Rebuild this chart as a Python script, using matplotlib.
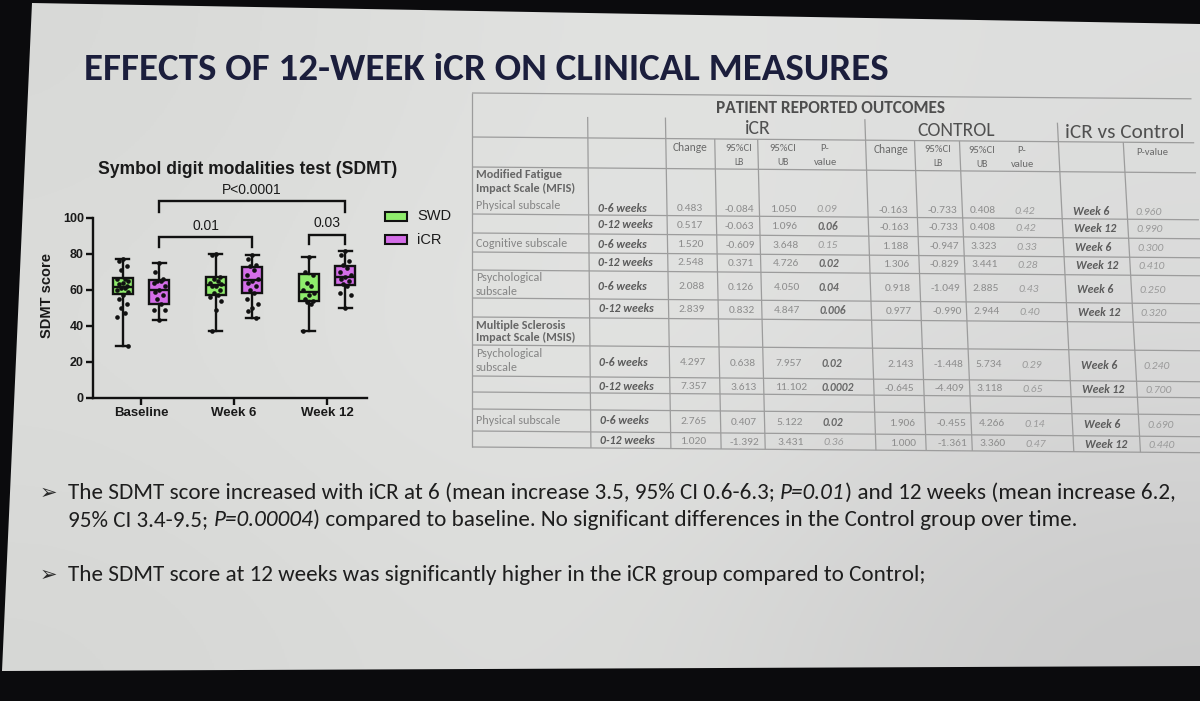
import matplotlib
matplotlib.use('Agg')
import matplotlib.pyplot as plt
import numpy as np
from matplotlib import font_manager
from matplotlib.patches import Polygon, Rectangle
from matplotlib.colors import to_rgb

# ---------------- data ----------------
groups = ['Baseline', 'Week 6', 'Week 12']
series_names = ['SWD', 'iCR']
series_colors = ['#8fec6c', '#d46ee8']

swd_min = [29, 37, 37]
swd_q1 = [57.5, 57, 54]
swd_med = [61.5, 62.5, 58.5]
swd_q3 = [66.5, 67, 68.5]
swd_max = [77, 80, 78]

icr_min = [43, 44.5, 50]
icr_q1 = [52, 58, 62.5]
icr_med = [60, 65.5, 67]
icr_q3 = [65.5, 72.5, 73]
icr_max = [75, 79.5, 81.5]

swd_points = [
    [77, 76, 73, 71, 66, 66, 65, 64, 63, 62, 61, 61, 60, 59, 57, 55, 52, 50, 47, 45, 29],
    [80, 79, 67, 66, 65, 64, 63, 62, 62, 60, 58, 57, 56, 54, 49, 37],
    [78, 70, 68, 64, 62, 60, 58, 57, 55, 54, 53, 52, 37],
]
icr_points = [
    [75, 70, 66, 65, 65, 64, 62, 60, 59, 57, 55, 52, 49, 49, 43],
    [79.5, 77, 74, 73, 71, 68, 66, 65, 64, 62, 60, 58, 55, 52, 50, 48, 44.5],
    [81.5, 79, 76, 74, 72, 70, 68, 67, 66, 65, 63, 62, 58, 57, 50],
]

y_ticks = [0, 20, 40, 60, 80, 100]
sig_labels = ['P<0.0001', '0.01', '0.03']
sig_from = [(0, 1), (0, 1), (2, 0)]   # (group, series)
sig_to = [(2, 1), (1, 1), (2, 1)]
sig_level = [109, 89, 90.5]
sig_drop = [6, 5.5, 5]

# table data
tbl_title = 'PATIENT REPORTED OUTCOMES'
tbl_sections = ['iCR', 'CONTROL', 'iCR vs Control']
periods = ['0-6 weeks', '0-12 weeks'] * 5
icr_change = ['0.483', '0.517', '1.520', '2.548', '2.088', '2.839', '4.297', '7.357', '2.765', '1.020']
icr_lb = ['-0.084', '-0.063', '-0.609', '0.371', '0.126', '0.832', '0.638', '3.613', '0.407', '-1.392']
icr_ub = ['1.050', '1.096', '3.648', '4.726', '4.050', '4.847', '7.957', '11.102', '5.122', '3.431']
icr_p = ['0.09', '0.06', '0.15', '0.02', '0.04', '0.006', '0.02', '0.0002', '0.02', '0.36']
icr_p_bold = [False, True, False, True, True, True, True, True, True, False]
ctl_change = ['-0.163', '-0.163', '1.188', '1.306', '0.918', '0.977', '2.143', '-0.645', '1.906', '1.000']
ctl_lb = ['-0.733', '-0.733', '-0.947', '-0.829', '-1.049', '-0.990', '-1.448', '-4.409', '-0.455', '-1.361']
ctl_ub = ['0.408', '0.408', '3.323', '3.441', '2.885', '2.944', '5.734', '3.118', '4.266', '3.360']
ctl_p = ['0.42', '0.42', '0.33', '0.28', '0.43', '0.40', '0.29', '0.65', '0.14', '0.47']
cmp_week = ['Week 6', 'Week 12'] * 5
cmp_p = ['0.960', '0.990', '0.300', '0.410', '0.250', '0.320', '0.240', '0.700', '0.690', '0.440']
row_labels = ['Modified Fatigue', 'Impact Scale (MFIS)', 'Physical subscale', 'Cognitive subscale',
              'Psychological', 'subscale', 'Multiple Sclerosis', 'Impact Scale (MSIS)',
              'Psychological', 'subscale', 'Physical subscale']
row_label_bold = [True, True, False, False, False, False, True, True, False, False, False]

title_text = 'EFFECTS OF 12-WEEK iCR ON CLINICAL MEASURES'
bullet1a = [('The SDMT score increased with iCR at 6 (mean increase 3.5, 95% CI 0.6-6.3; ', 'n'),
            ('P=0.01', 'i'), (') and 12 weeks (mean increase 6.2,', 'n')]
bullet1b = [('95% CI 3.4-9.5; ', 'n'), ('P=0.00004', 'i'),
            (') compared to baseline. No significant differences in the Control group over time.', 'n')]
bullet2 = [('The SDMT score at 12 weeks was significantly higher in the iCR group compared to Control;', 'n')]

# ---------------- fonts ----------------
names = {f.name for f in font_manager.fontManager.ttflist}
CAL = 'Carlito' if 'Carlito' in names else 'Open Sans'
ARIAL = 'Liberation Sans'

W, H = 1200, 701
fig = plt.figure(figsize=(W / 100, H / 100), dpi=100)
fig.patch.set_facecolor('#0b0b0d')
R = fig.canvas.get_renderer()

bg = fig.add_axes([0, 0, 1, 1], zorder=0)
bg.set_xlim(0, W)
bg.set_ylim(H, 0)
bg.axis('off')

# slide with gradient
slide = Polygon([(32, 3), (1200, 24), (1200, 666), (2, 671)], closed=True,
                facecolor='none', edgecolor='none', transform=bg.transData)
bg.add_patch(slide)
grid = np.array([[to_rgb(c) for c in row] for row in [
    ['#d8d9d7', '#e3e4e2', '#dddedd'],
    ['#dcdddb', '#e6e7e5', '#dadada'],
    ['#d6d7d5', '#dfe0de', '#cacaca']]])
im = bg.imshow(grid, extent=[0, W, H, 0], interpolation='bicubic', aspect='auto', zorder=0)
im.set_clip_path(slide)


def width_of(t):
    return t.get_window_extent(renderer=R).width


def size_for(s, w, **kw):
    t = bg.text(0, 0, s, fontsize=10, **kw)
    fs = 10 * w / width_of(t)
    t.remove()
    return fs


def fit(axx, x, y, s, w, **kw):
    t = axx.text(x, y, s, fontsize=10, **kw)
    t.set_fontsize(10 * w / width_of(t))
    return t


def run_width(axx, s, fs, **kw):
    t1 = axx.text(0, 0, '|' + s + '|', fontsize=fs, **kw)
    t2 = axx.text(0, 0, '||', fontsize=fs, **kw)
    w = width_of(t1) - width_of(t2)
    t1.remove()
    t2.remove()
    return w


def runs_width(axx, parts, fs, **kw):
    return sum(run_width(axx, s, fs, fontstyle=('italic' if st == 'i' else 'normal'), **kw)
               for s, st in parts)


def runs(axx, x, y, parts, fs, **kw):
    cx = x
    for s, st in parts:
        sty = 'italic' if st == 'i' else 'normal'
        axx.text(cx, y, s, fontsize=fs, fontstyle=sty, ha='left', va='center', **kw)
        cx += run_width(axx, s, fs, fontstyle=sty, **kw)


# title
fit(bg, 486, 70, title_text, 803, ha='center', va='center', weight='bold',
    family=CAL, color='#1b1e3c')

# bullets (one common size, taken from the second line)
bkw = dict(family=CAL, color='#1e1e1e')
fb = 10 * 1010 / runs_width(bg, bullet1b, 10, **bkw)
for yy in [493, 575]:
    bg.text(48, yy, '\u27a2', fontsize=15, family='DejaVu Sans', ha='center', va='center', color='#2a2a2a')
runs(bg, 68, 493, bullet1a, fb, **bkw)
runs(bg, 68, 520, bullet1b, fb, **bkw)
runs(bg, 68, 575, bullet2, fb, **bkw)

# ---------------- table ----------------
A_SH = 8.5e-5
B_SH = 0.008


def P(x, y):
    return x + A_SH * (x - 472) * (y - 150), y + B_SH * (x - 472)


LINE_C = '#9c9c9c'
h_lines = [93, 137, 167, 214, 233, 252, 270, 298, 317, 345, 376, 392, 409, 431, 447]
for yy in h_lines:
    (x0, y0), (x1, y1) = P(472, yy), P(1195, yy)
    bg.plot([x0, x1], [y0, y1], color=LINE_C, lw=0.9, solid_capstyle='butt')
v_lines = [(472, 93), (588, 116), (666, 116), (715, 137), (758, 137), (866, 116),
           (915, 137), (960, 137), (1059, 118), (1124, 137)]
for xx, yt in v_lines:
    (x0, y0), (x1, y1) = P(xx, yt), P(xx, 447)
    bg.plot([x0, x1], [y0, y1], color=LINE_C, lw=0.9, solid_capstyle='butt')


def T(x, y, s, **kw):
    px, py = P(x, y)
    kw.setdefault('va', 'center')
    kw.setdefault('family', CAL)
    return bg.text(px, py, s, **kw)


def TF(x, y, s, w, **kw):
    px, py = P(x, y)
    kw.setdefault('va', 'center')
    kw.setdefault('family', CAL)
    return fit(bg, px, py, s, w, **kw)


TF(832, 105, tbl_title, 230, ha='center', weight='bold', color='#4e4e4e')
TF(758, 126.5, tbl_sections[0], 26, ha='center', color='#505050')
TF(957, 127, tbl_sections[1], 78, ha='center', color='#505050')
TF(1126, 127.5, tbl_sections[2], 120, ha='center', color='#505050')

HS = size_for('Change', 35, family=CAL)
NS = size_for('0.483', 26, family=CAL)
PS = size_for('0-6 weeks', 49, family=CAL, weight='bold', style='italic')
LS = size_for('Physical subscale', 84, family=CAL)
HC = '#6a6a6a'
for cx, two in [(690, False), (739, True), (783, True), (825, 'p'),
                (891, False), (938, True), (982, True), (1022, 'p')]:
    if two is False:
        T(cx, 146, 'Change', fontsize=HS, ha='center', color=HC)
    elif two is True:
        T(cx, 146, '95%CI', fontsize=HS * 0.92, ha='center', color=HC)
        T(cx, 160, 'LB' if cx in (739, 938) else 'UB', fontsize=HS * 0.85, ha='center', color=HC)
    else:
        T(cx, 146, 'P-', fontsize=HS * 0.92, ha='center', color=HC)
        T(cx, 160, 'value', fontsize=HS * 0.92, ha='center', color=HC)
T(1152, 147, 'P-value', fontsize=HS * 0.92, ha='center', color=HC)

label_y = [174, 188, 205, 243, 277, 291, 325, 337, 353, 367, 420]
for s, yy, b in zip(row_labels, label_y, row_label_bold):
    T(476, yy, s, fontsize=LS, ha='left', weight=('bold' if b else 'normal'),
      color=('#666666' if b else '#858585'))

row_y = [207, 224, 243, 261, 285, 308, 361, 385, 420, 440]
NC = '#8e8e8e'
for i, yy in enumerate(row_y):
    T(597, yy, periods[i], fontsize=PS, ha='left', weight='bold', style='italic', color='#5c5c5c')
    T(689, yy, icr_change[i], fontsize=NS, ha='center', color=NC)
    T(738, yy, icr_lb[i], fontsize=NS, ha='center', color=NC)
    T(770, yy, icr_ub[i], fontsize=NS, ha='left', color=NC)
    T(815, yy, icr_p[i], fontsize=NS, ha='left', style='italic',
      weight=('bold' if icr_p_bold[i] else 'normal'), color=('#6a6a6a' if icr_p_bold[i] else '#9a9a9a'))
    T(906, yy, ctl_change[i], fontsize=NS, ha='right', color=NC)
    T(955, yy, ctl_lb[i], fontsize=NS, ha='right', color=NC)
    T(967, yy, ctl_ub[i], fontsize=NS, ha='left', color=NC)
    T(1012, yy, ctl_p[i], fontsize=NS, ha='left', style='italic', color='#9a9a9a')
    T(1070, yy, cmp_week[i], fontsize=PS, ha='left', weight='bold', style='italic', color='#5c5c5c')
    T(1132, yy, cmp_p[i], fontsize=NS, ha='left', style='italic', color='#9a9a9a')

# ---------------- box plot ----------------
ax = fig.add_axes([93 / W, (H - 397.7) / H, 274 / W, 180 / H], zorder=2)
ax.set_facecolor('none')
ax.set_xlim(0.484, 3.43)
ax.set_ylim(0, 100)
OFF = 0.195


def pos(g, s):
    return g + 1 + (-OFF if s == 0 else OFF)


stats_all = [(swd_min, swd_q1, swd_med, swd_q3, swd_max, swd_points),
             (icr_min, icr_q1, icr_med, icr_q3, icr_max, icr_points)]
jit = [0, -0.045, 0.045, -0.022, 0.022, -0.06, 0.06]
for s, (mn, q1, md, q3, mx, pts) in enumerate(stats_all):
    st = [dict(whislo=mn[g], q1=q1[g], med=md[g], q3=q3[g], whishi=mx[g], fliers=[])
          for g in range(3)]
    ps = [pos(g, s) for g in range(3)]
    ax.bxp(st, positions=ps, widths=0.215, capwidths=0.14, patch_artist=True, showfliers=False,
           boxprops=dict(facecolor=series_colors[s], edgecolor='#111111', lw=1.7),
           whiskerprops=dict(color='#111111', lw=1.7), capprops=dict(color='#111111', lw=1.7),
           medianprops=dict(color='#111111', lw=1.7), manage_ticks=False, zorder=2)
    for g in range(3):
        xs = [ps[g] + jit[i % len(jit)] for i in range(len(pts[g]))]
        ax.scatter(xs, pts[g], s=11, color='#111111', zorder=3, clip_on=False, linewidths=0)

for lab, f, t, lv, dr in zip(sig_labels, sig_from, sig_to, sig_level, sig_drop):
    x0, x1 = pos(*f), pos(*t)
    ax.plot([x0, x0, x1, x1], [lv - dr, lv, lv, lv - dr], color='#111111', lw=1.7,
            clip_on=False, solid_joinstyle='miter')
    ax.text((x0 + x1) / 2, lv + 2.6, lab, ha='center', va='bottom', fontsize=10,
            family=ARIAL, color='#1a1a1a')

for sp in ['top', 'right']:
    ax.spines[sp].set_visible(False)
for sp in ['left', 'bottom']:
    ax.spines[sp].set_linewidth(1.7)
    ax.spines[sp].set_color('#111111')
ax.set_xticks([1, 2, 3])
ax.set_xticklabels(groups, fontsize=9.5, weight='bold', family=ARIAL, color='#1a1a1a')
ax.set_yticks(y_ticks)
ax.set_yticklabels([str(v) for v in y_ticks], fontsize=9, weight='bold', family=ARIAL, color='#1a1a1a')
ax.tick_params(axis='both', direction='out', length=5, width=1.7, color='#111111', pad=1.5)

bg.text(47, 295, 'SDMT score', rotation=90, ha='center', va='center', fontsize=10.5,
        weight='bold', family=ARIAL, color='#1a1a1a')
fit(bg, 248, 170, 'Symbol digit modalities test (SDMT)', 300, ha='center', va='center',
    weight='bold', family=ARIAL, color='#1a1a1a')

# legend
for i, (nm, col) in enumerate(zip(series_names, series_colors)):
    yy = 216 + i * 23.5
    bg.add_patch(Rectangle((385, yy - 4.5), 22, 9, facecolor=col, edgecolor='#111111', lw=1.5, zorder=3))
    bg.text(417, yy, nm, ha='left', va='center', fontsize=10.5, family=ARIAL, color='#1a1a1a')

fig.savefig('out.png', dpi=100, facecolor=fig.get_facecolor())
